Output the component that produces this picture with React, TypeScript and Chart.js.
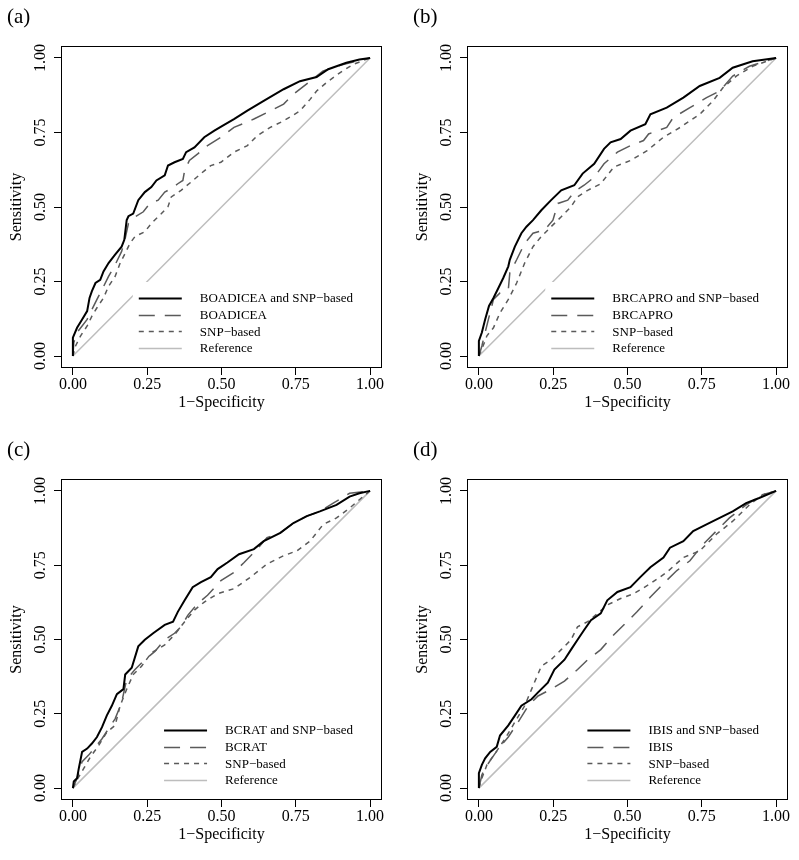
import React, { useEffect, useRef } from 'react';
import { Chart, registerables } from 'chart.js';

Chart.register(...registerables);

const FONT = '"Liberation Serif", "Times New Roman", Times, serif';

const AXIS_TICKS = [0, 0.25, 0.5, 0.75, 1];
const PANEL_LABELS = ['(a)', '(b)', '(c)', '(d)'];
const MODEL_NAMES = ['BOADICEA', 'BRCAPRO', 'BCRAT', 'IBIS'];
const X_TITLE = '1\u2212Specificity';
const Y_TITLE = 'Sensitivity';
const SNP_LABEL = 'SNP\u2212based';
const REF_LABEL = 'Reference';

type Pt = [number, number];

// (a) BOADICEA
const A_COMBINED: Pt[] = [[0,0],[0,0.062],[0.014,0.095],[0.031,0.123],[0.048,0.151],[0.056,0.195],[0.064,0.218],[0.076,0.245],[0.092,0.256],[0.103,0.284],[0.12,0.312],[0.142,0.34],[0.164,0.367],[0.173,0.39],[0.181,0.456],[0.187,0.469],[0.203,0.478],[0.22,0.523],[0.242,0.55],[0.264,0.567],[0.281,0.589],[0.309,0.606],[0.32,0.639],[0.342,0.65],[0.37,0.661],[0.381,0.684],[0.409,0.7],[0.442,0.734],[0.476,0.756],[0.503,0.772],[0.542,0.795],[0.587,0.823],[0.642,0.856],[0.709,0.895],[0.764,0.922],[0.82,0.936],[0.859,0.962],[0.92,0.984],[0.964,0.995],[1,1]];
const A_MODEL: Pt[] = [[0,0],[0.003,0.045],[0.014,0.079],[0.031,0.101],[0.048,0.123],[0.064,0.156],[0.081,0.19],[0.098,0.223],[0.12,0.267],[0.142,0.306],[0.164,0.351],[0.176,0.395],[0.187,0.445],[0.209,0.467],[0.237,0.484],[0.259,0.512],[0.287,0.523],[0.309,0.55],[0.331,0.562],[0.353,0.578],[0.37,0.589],[0.376,0.623],[0.392,0.656],[0.42,0.678],[0.453,0.706],[0.498,0.734],[0.542,0.767],[0.609,0.795],[0.676,0.828],[0.709,0.845],[0.742,0.878],[0.798,0.922],[0.842,0.956],[0.909,0.978],[0.964,0.991],[1,1]];
const A_SNP: Pt[] = [[0,0],[0.009,0.034],[0.026,0.068],[0.048,0.101],[0.064,0.134],[0.081,0.162],[0.103,0.195],[0.12,0.234],[0.142,0.267],[0.159,0.312],[0.176,0.345],[0.192,0.378],[0.209,0.401],[0.242,0.417],[0.264,0.445],[0.298,0.478],[0.32,0.501],[0.331,0.534],[0.364,0.556],[0.398,0.584],[0.431,0.612],[0.464,0.639],[0.498,0.65],[0.542,0.684],[0.587,0.706],[0.62,0.739],[0.664,0.767],[0.709,0.789],[0.764,0.822],[0.798,0.861],[0.82,0.889],[0.853,0.917],[0.898,0.95],[0.942,0.978],[1,1]];

// (b) BRCAPRO
const B_COMBINED: Pt[] = [[0,0],[0,0.051],[0.01,0.079],[0.021,0.123],[0.034,0.168],[0.049,0.195],[0.066,0.229],[0.082,0.262],[0.099,0.301],[0.104,0.323],[0.121,0.367],[0.143,0.412],[0.16,0.434],[0.182,0.456],[0.21,0.489],[0.243,0.523],[0.277,0.556],[0.321,0.573],[0.349,0.612],[0.388,0.645],[0.421,0.695],[0.443,0.717],[0.477,0.728],[0.51,0.756],[0.56,0.778],[0.577,0.811],[0.632,0.833],[0.688,0.867],[0.743,0.906],[0.81,0.933],[0.854,0.967],[0.921,0.989],[1,1]];
const B_MODEL: Pt[] = [[0,0],[0.01,0.034],[0.021,0.079],[0.032,0.123],[0.049,0.19],[0.071,0.212],[0.099,0.223],[0.104,0.279],[0.127,0.323],[0.154,0.378],[0.182,0.412],[0.221,0.423],[0.249,0.456],[0.266,0.512],[0.299,0.523],[0.321,0.551],[0.354,0.573],[0.388,0.6],[0.421,0.645],[0.466,0.684],[0.51,0.706],[0.554,0.723],[0.571,0.745],[0.632,0.767],[0.654,0.8],[0.71,0.833],[0.766,0.867],[0.81,0.889],[0.854,0.939],[0.91,0.972],[1,1]];
const B_SNP: Pt[] = [[0,0],[0.01,0.023],[0.027,0.068],[0.049,0.095],[0.071,0.145],[0.099,0.19],[0.127,0.245],[0.154,0.312],[0.182,0.367],[0.21,0.401],[0.243,0.434],[0.277,0.467],[0.31,0.501],[0.332,0.534],[0.366,0.556],[0.41,0.578],[0.454,0.634],[0.51,0.656],[0.566,0.689],[0.621,0.734],[0.677,0.767],[0.743,0.811],[0.788,0.856],[0.821,0.9],[0.866,0.939],[0.921,0.972],[1,1]];

// (c) BCRAT
const C_COMBINED: Pt[] = [[0,0],[0.003,0.022],[0.014,0.033],[0.02,0.067],[0.031,0.122],[0.048,0.133],[0.064,0.15],[0.081,0.172],[0.098,0.205],[0.114,0.244],[0.131,0.277],[0.148,0.316],[0.17,0.333],[0.176,0.382],[0.198,0.405],[0.22,0.477],[0.242,0.499],[0.27,0.521],[0.309,0.549],[0.337,0.56],[0.353,0.593],[0.376,0.632],[0.403,0.676],[0.431,0.693],[0.464,0.71],[0.487,0.737],[0.52,0.759],[0.559,0.787],[0.609,0.804],[0.642,0.831],[0.698,0.859],[0.742,0.892],[0.787,0.915],[0.831,0.931],[0.887,0.953],[0.931,0.981],[0.964,0.992],[1,1]];
const C_MODEL: Pt[] = [[0,0],[0.014,0.033],[0.031,0.089],[0.053,0.111],[0.076,0.139],[0.098,0.166],[0.12,0.2],[0.142,0.233],[0.164,0.288],[0.181,0.366],[0.209,0.399],[0.242,0.432],[0.276,0.46],[0.309,0.499],[0.342,0.521],[0.364,0.543],[0.387,0.582],[0.42,0.621],[0.453,0.649],[0.498,0.698],[0.542,0.726],[0.576,0.759],[0.62,0.804],[0.653,0.843],[0.698,0.859],[0.742,0.892],[0.787,0.915],[0.831,0.931],[0.876,0.959],[0.931,0.992],[1,1]];
const C_SNP: Pt[] = [[0,0],[0.014,0.028],[0.037,0.067],[0.059,0.105],[0.087,0.144],[0.114,0.188],[0.142,0.211],[0.159,0.277],[0.181,0.333],[0.203,0.382],[0.231,0.41],[0.264,0.455],[0.309,0.482],[0.342,0.516],[0.376,0.56],[0.409,0.599],[0.442,0.626],[0.487,0.654],[0.542,0.671],[0.598,0.71],[0.653,0.754],[0.709,0.782],[0.753,0.798],[0.798,0.831],[0.842,0.887],[0.887,0.909],[0.931,0.942],[0.976,0.981],[1,1]];

// (d) IBIS
const D_COMBINED: Pt[] = [[0,0],[0,0.05],[0.01,0.078],[0.021,0.1],[0.038,0.122],[0.06,0.139],[0.071,0.177],[0.099,0.211],[0.121,0.244],[0.143,0.277],[0.177,0.299],[0.199,0.322],[0.232,0.355],[0.254,0.399],[0.288,0.432],[0.31,0.466],[0.332,0.499],[0.354,0.532],[0.377,0.565],[0.41,0.588],[0.432,0.632],[0.466,0.66],[0.51,0.676],[0.543,0.71],[0.577,0.743],[0.621,0.776],[0.643,0.809],[0.688,0.831],[0.721,0.865],[0.766,0.887],[0.81,0.909],[0.854,0.931],[0.899,0.959],[0.943,0.976],[1,1]];
const D_MODEL: Pt[] = [[0,0],[0.01,0.044],[0.021,0.067],[0.043,0.1],[0.066,0.133],[0.099,0.172],[0.132,0.222],[0.166,0.277],[0.199,0.31],[0.243,0.333],[0.288,0.36],[0.332,0.399],[0.366,0.432],[0.41,0.466],[0.454,0.516],[0.499,0.56],[0.532,0.593],[0.577,0.643],[0.621,0.688],[0.666,0.732],[0.71,0.765],[0.754,0.82],[0.799,0.865],[0.843,0.909],[0.899,0.953],[0.954,0.987],[1,1]];
const D_SNP: Pt[] = [[0,0],[0.01,0.033],[0.027,0.078],[0.054,0.116],[0.088,0.166],[0.121,0.222],[0.154,0.277],[0.182,0.344],[0.21,0.41],[0.243,0.432],[0.277,0.466],[0.31,0.499],[0.332,0.543],[0.366,0.56],[0.399,0.588],[0.432,0.616],[0.477,0.638],[0.521,0.654],[0.577,0.688],[0.632,0.726],[0.688,0.776],[0.743,0.798],[0.799,0.854],[0.854,0.898],[0.91,0.953],[0.954,0.987],[1,1]];

const REFERENCE: Pt[] = [[0,0],[1,1]];

const PANEL_SERIES: Pt[][][] = [
  [A_COMBINED, A_MODEL, A_SNP],
  [B_COMBINED, B_MODEL, B_SNP],
  [C_COMBINED, C_MODEL, C_SNP],
  [D_COMBINED, D_MODEL, D_SNP],
];

// layout of the four canvases (page pixels)
const PANEL_BOXES = [
  { left: 0, top: 0, w: 400, h: 430, plotH: 322 },
  { left: 406, top: 0, w: 393, h: 430, plotH: 322 },
  { left: 0, top: 433, w: 400, h: 427, plotH: 321 },
  { left: 406, top: 433, w: 393, h: 427, plotH: 321 },
];
const PLOT_LEFT = 61;
const PLOT_TOP = 46;
const PLOT_RIGHT = 382;

const STYLES = [
  { color: '#000000', width: 2, dash: [] as number[] },
  { color: '#5a5a5a', width: 1.5, dash: [16, 10] },
  { color: '#5a5a5a', width: 1.5, dash: [5, 5] },
  { color: '#bdbdbd', width: 1.5, dash: [] as number[] },
];

const decorPlugin = {
  id: 'decor',
  afterDatasetsDraw(chart: any) {
    const { ctx, chartArea: ca } = chart;
    const label = chart.options.plugins.decor.label as string;
    ctx.save();
    // legend with white background
    ctx.font = `13px ${FONT}`;
    const ds = chart.data.datasets;
    const maxW = Math.max(...ds.map((d: any) => ctx.measureText(d.label).width));
    const textX = ca.right - 29 - maxW;
    const lx0 = textX - 61;
    const lx1 = textX - 18;
    ctx.fillStyle = '#ffffff';
    ctx.fillRect(lx0 - 6, ca.bottom - 86, ca.right - 8 - (lx0 - 6), 80);
    ds.forEach((d: any, i: number) => {
      const y = ca.bottom - 70 + i * 16.6;
      ctx.beginPath();
      ctx.setLineDash(d.borderDash || []);
      ctx.strokeStyle = d.borderColor;
      ctx.lineWidth = d.borderWidth;
      ctx.moveTo(lx0, Math.round(y) + 0.5);
      ctx.lineTo(lx1, Math.round(y) + 0.5);
      ctx.stroke();
      ctx.setLineDash([]);
      ctx.fillStyle = '#000';
      ctx.textAlign = 'left';
      ctx.textBaseline = 'middle';
      ctx.fillText(d.label, textX, y + 1);
    });
    // box
    ctx.strokeStyle = '#000';
    ctx.lineWidth = 1;
    ctx.strokeRect(ca.left + 0.5, ca.top + 0.5, ca.right - ca.left - 1, ca.bottom - ca.top - 1);
    // panel label
    ctx.font = `21px ${FONT}`;
    ctx.fillStyle = '#000';
    ctx.textAlign = 'left';
    ctx.textBaseline = 'alphabetic';
    ctx.fillText(label, 7, 23);
    ctx.restore();
  },
};

function Panel({ idx }: { idx: number }) {
  const ref = useRef<HTMLCanvasElement>(null);
  const box = PANEL_BOXES[idx];
  useEffect(() => {
    if (!ref.current) return;
    const series = PANEL_SERIES[idx];
    const labels = [`${MODEL_NAMES[idx]} and ${SNP_LABEL}`, MODEL_NAMES[idx], SNP_LABEL, REF_LABEL];
    const all = [...series, REFERENCE];
    const datasets = all.map((pts, i) => ({
      label: labels[i],
      data: pts.map(([x, y]) => ({ x, y })),
      borderColor: STYLES[i].color,
      borderWidth: STYLES[i].width,
      borderDash: STYLES[i].dash,
      pointRadius: 0,
      fill: false,
      tension: 0,
      order: i,
    }));
    const xScaleH = box.h - PLOT_TOP - box.plotH;
    const tickFont = { family: FONT, size: 16 };
    const chart = new Chart(ref.current, {
      type: 'line',
      data: { datasets },
      plugins: [decorPlugin],
      options: {
        responsive: false,
        animation: false,
        devicePixelRatio: 1,
        events: [],
        layout: { padding: { top: PLOT_TOP, right: box.w - PLOT_RIGHT, left: 0, bottom: 0 } },
        plugins: {
          legend: { display: false },
          tooltip: { enabled: false },
          decor: { label: PANEL_LABELS[idx] },
        } as any,
        scales: {
          x: {
            type: 'linear',
            min: -0.04,
            max: 1.04,
            afterBuildTicks: (s: any) => { s.ticks = AXIS_TICKS.map((v) => ({ value: v })); },
            afterFit: (s: any) => { s.height = xScaleH; },
            ticks: { font: tickFont, color: '#000', padding: 0, maxRotation: 0, autoSkip: false, callback: (v: any) => Number(v).toFixed(2) },
            grid: { drawOnChartArea: false, drawTicks: true, tickLength: 7, color: '#000', lineWidth: 1 },
            border: { display: false },
            title: { display: true, text: X_TITLE, font: tickFont, color: '#000', padding: { top: 0, bottom: xScaleH - 34.5 - 9.6 } },
          },
          y: {
            type: 'linear',
            min: -0.04,
            max: 1.04,
            afterBuildTicks: (s: any) => { s.ticks = AXIS_TICKS.map((v) => ({ value: v })); },
            afterFit: (s: any) => { s.width = PLOT_LEFT; },
            ticks: { font: tickFont, color: '#000', padding: -1, minRotation: 90, maxRotation: 90, crossAlign: 'center', autoSkip: false, callback: (v: any) => Number(v).toFixed(2) },
            grid: { drawOnChartArea: false, drawTicks: true, tickLength: 7, color: '#000', lineWidth: 1 },
            border: { display: false },
            title: { display: true, text: Y_TITLE, font: tickFont, color: '#000', padding: { top: 7, bottom: 0 } },
          },
        },
      } as any,
    });
    return () => chart.destroy();
  }, [idx]);
  return (
    <canvas
      ref={ref}
      width={box.w}
      height={box.h}
      style={{ position: 'absolute', left: box.left, top: box.top, width: box.w, height: box.h }}
    />
  );
}

export default function App() {
  return (
    <div style={{ position: 'absolute', left: 0, top: 0, width: 799, height: 860, background: '#fff' }}>
      {[0, 1, 2, 3].map((i) => <Panel key={i} idx={i} />)}
    </div>
  );
}
